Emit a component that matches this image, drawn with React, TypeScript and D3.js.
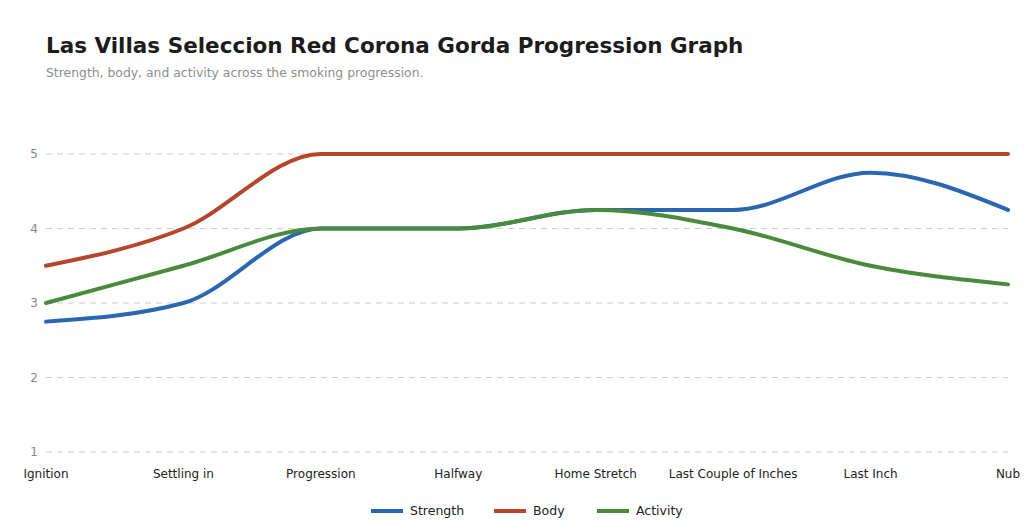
import React from "react";
import * as d3 from "d3";

const categories = ["Ignition", "Settling in", "Progression", "Halfway", "Home Stretch", "Last Couple of Inches", "Last Inch", "Nub"];
const strength = [2.75, 3, 4, 4, 4.25, 4.25, 4.75, 4.25];
const body = [3.5, 4, 5, 5, 5, 5, 5, 5];
const activity = [3, 3.5, 4, 4, 4.25, 4, 3.5, 3.25];
const yTicks = [1, 2, 3, 4, 5];
const seriesNames = ["Strength", "Body", "Activity"];
const seriesColors = ["#2b67b0", "#b5452b", "#4a8a3c"];

const W = 1024;
const H = 522;
const FONT = "'DejaVu Sans', sans-serif";

export default function App() {
  const x = d3.scalePoint<string>().domain(categories).range([46, 1008]);
  const y = d3.scaleLinear().domain([1, 5]).range([452, 154]);
  const line = d3
    .line<number>()
    .x((_, i) => x(categories[i]) as number)
    .y((d) => y(d))
    .curve(d3.curveMonotoneX);
  const series = [strength, body, activity];
  const legendX = [371, 494, 597];

  return (
    <svg width={W} height={H} style={{ position: "absolute", left: 0, top: 0, background: "#fff" }} fontFamily={FONT}>
      <text x={46} y={53} fontSize={21.5} fontWeight="bold" fill="#1c1c1c">
        Las Villas Seleccion Red Corona Gorda Progression Graph
      </text>
      <text x={46} y={76.5} fontSize={12.4} fill="#8e8e8e">
        Strength, body, and activity across the smoking progression.
      </text>
      {yTicks.map((t) => (
        <g key={t}>
          <line x1={46} x2={1008} y1={y(t)} y2={y(t)} stroke="#cccccc" strokeWidth={1.2} strokeDasharray="6,5" />
          <text x={38} y={y(t)} dy="0.35em" textAnchor="end" fontSize={12} fill="#888">
            {t}
          </text>
        </g>
      ))}
      {categories.map((c) => (
        <text key={c} x={x(c)} y={478} textAnchor="middle" fontSize={12} fill="#222">
          {c}
        </text>
      ))}
      {series.map((s, i) => (
        <path key={i} d={line(s) || ""} fill="none" stroke={seriesColors[i]} strokeWidth={4} strokeLinecap="round" />
      ))}
      {seriesNames.map((n, i) => (
        <g key={n}>
          <line x1={legendX[i]} x2={legendX[i] + 32} y1={511} y2={511} stroke={seriesColors[i]} strokeWidth={4} />
          <text x={legendX[i] + 39} y={511} dy="0.35em" fontSize={12.5} fill="#222">
            {n}
          </text>
        </g>
      ))}
    </svg>
  );
}
